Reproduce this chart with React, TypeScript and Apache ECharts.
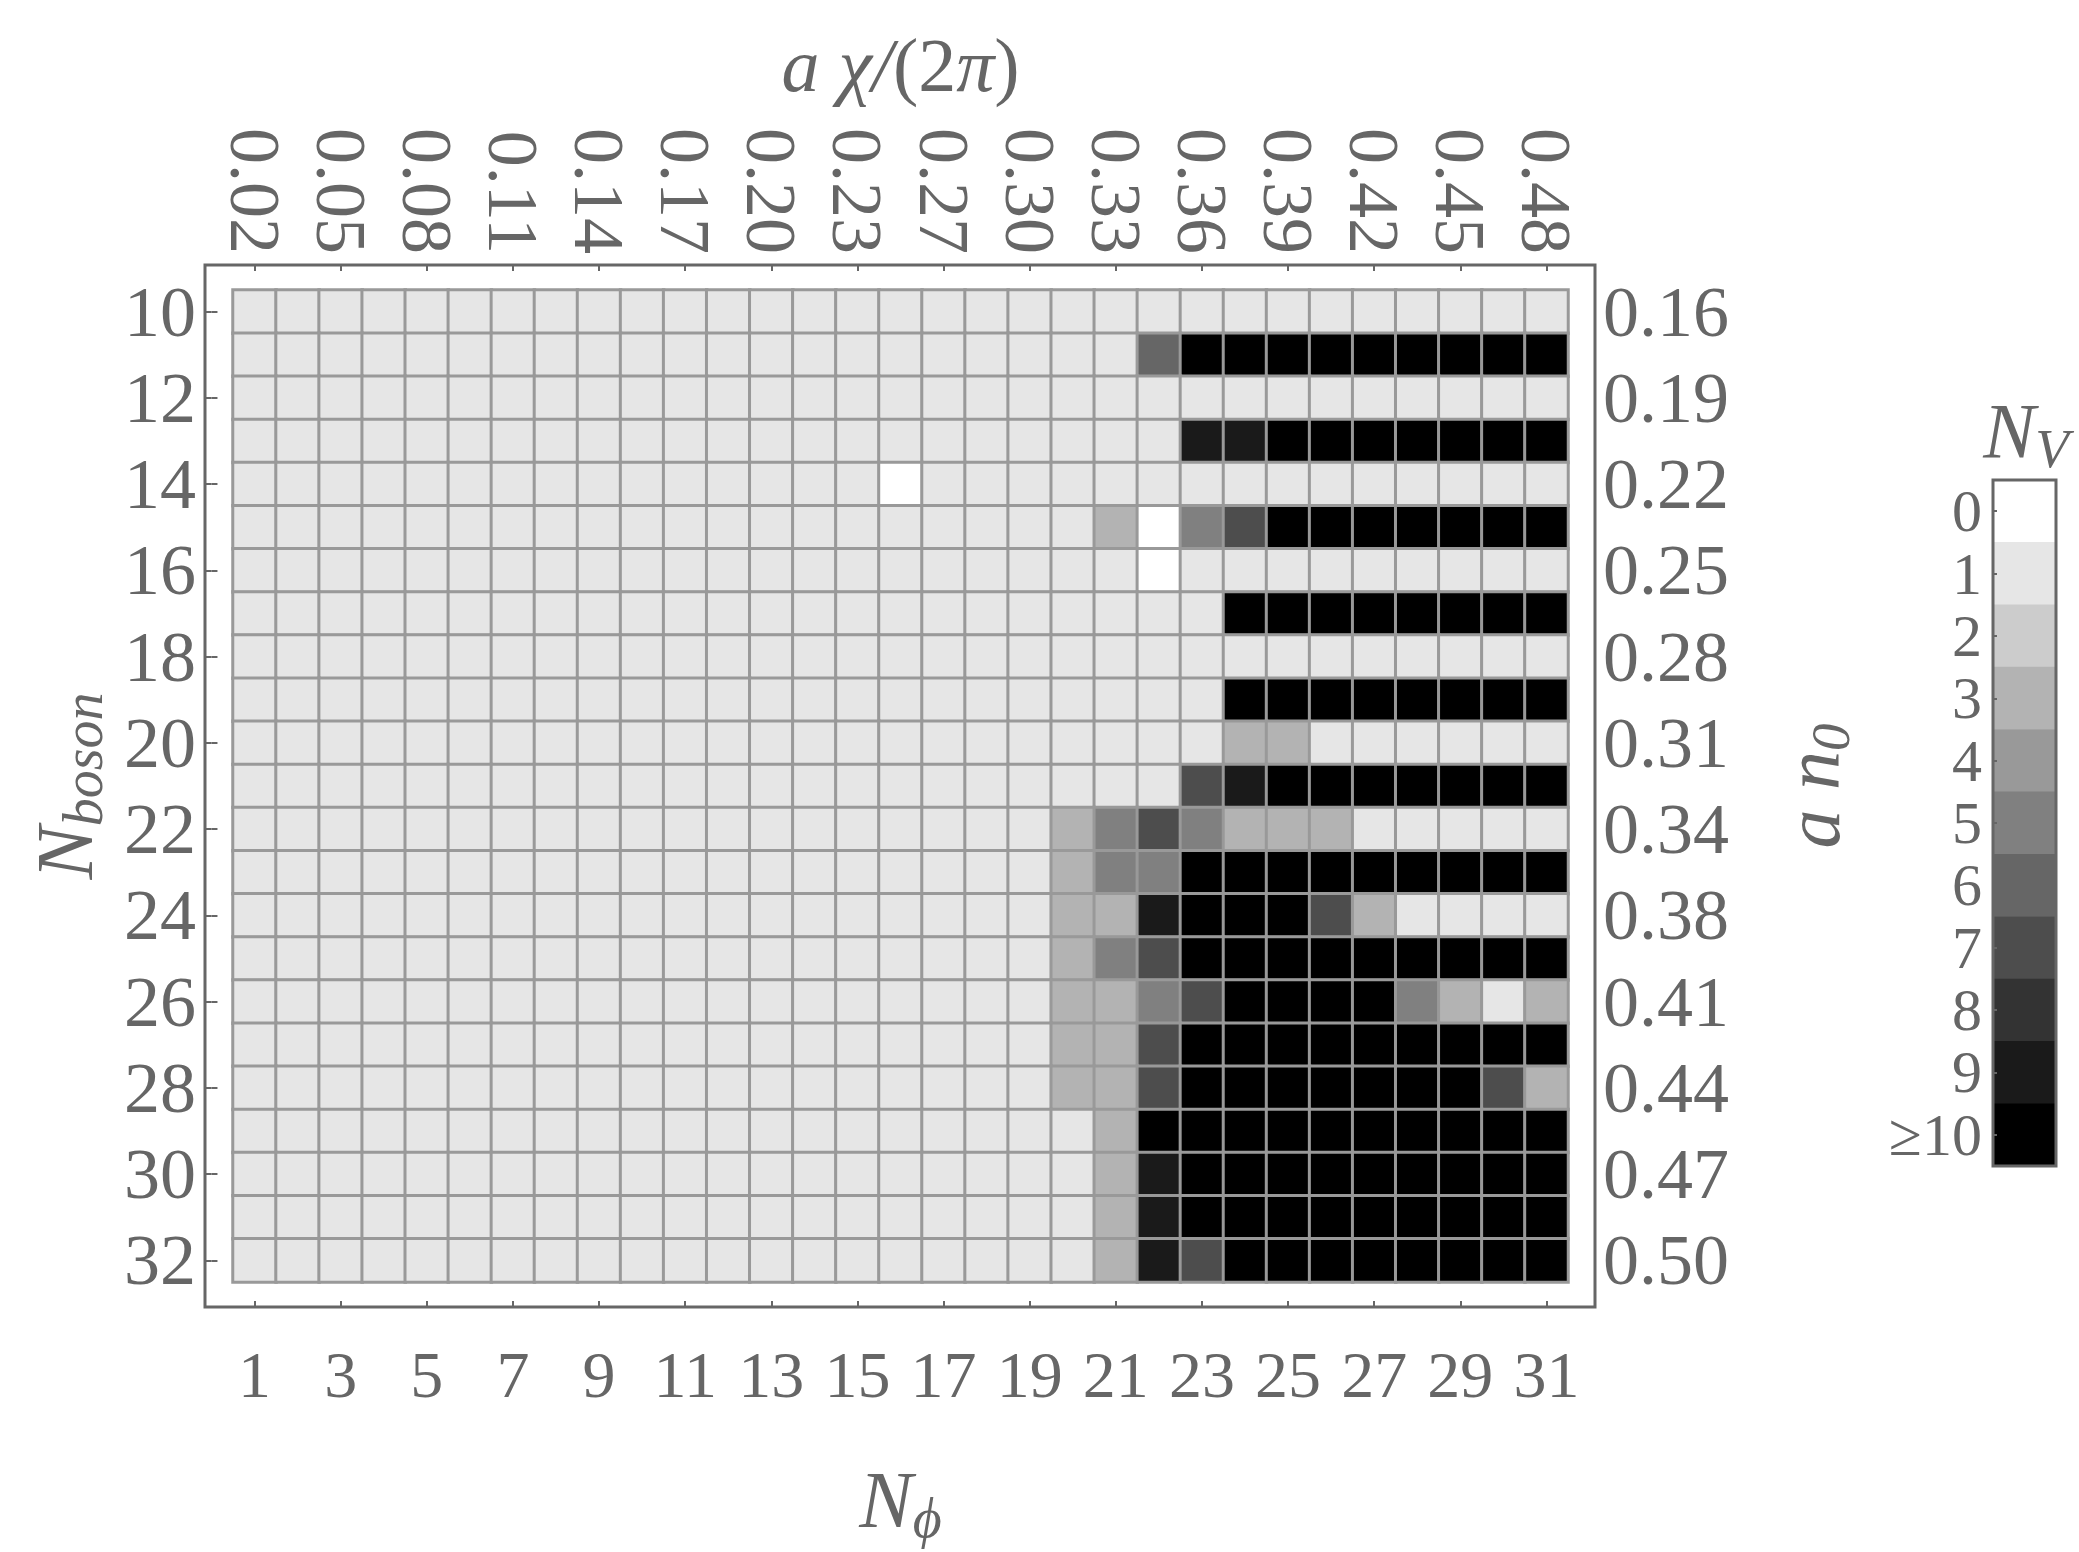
import React, { useEffect, useRef } from "react";
import * as echarts from "echarts";

// ---------- data ----------
const phiValues = [1, 2, 3, 4, 5, 6, 7, 8, 9, 10, 11, 12, 13, 14, 15, 16, 17, 18, 19, 20, 21, 22, 23, 24, 25, 26, 27, 28, 29, 30, 31];
const bosonValues = [10, 11, 12, 13, 14, 15, 16, 17, 18, 19, 20, 21, 22, 23, 24, 25, 26, 27, 28, 29, 30, 31, 32];
const chiLabels = ["0.02", "0.05", "0.08", "0.11", "0.14", "0.17", "0.20", "0.23", "0.27", "0.30", "0.33", "0.36", "0.39", "0.42", "0.45", "0.48"];
const densityLabels = ["0.16", "0.19", "0.22", "0.25", "0.28", "0.31", "0.34", "0.38", "0.41", "0.44", "0.47", "0.50"];
const nvLevels = [0, 1, 2, 3, 4, 5, 6, 7, 8, 9, 10];
const nvLabels = ["0", "1", "2", "3", "4", "5", "6", "7", "8", "9", "≥10"];
const nvColors = ["#ffffff", "#e6e6e6", "#cccccc", "#b3b3b3", "#999999", "#808080", "#666666", "#4d4d4d", "#333333", "#1a1a1a", "#000000"];

// N_V per row (N_boson = 10..32), columns N_phi = 1..31 ; 10 means >=10
const nvRows: number[][] = [
  /*10*/ [1, 1, 1, 1, 1, 1, 1, 1, 1, 1, 1, 1, 1, 1, 1, 1, 1, 1, 1, 1, 1, 1, 1, 1, 1, 1, 1, 1, 1, 1, 1],
  /*11*/ [1, 1, 1, 1, 1, 1, 1, 1, 1, 1, 1, 1, 1, 1, 1, 1, 1, 1, 1, 1, 1, 6, 10, 10, 10, 10, 10, 10, 10, 10, 10],
  /*12*/ [1, 1, 1, 1, 1, 1, 1, 1, 1, 1, 1, 1, 1, 1, 1, 1, 1, 1, 1, 1, 1, 1, 1, 1, 1, 1, 1, 1, 1, 1, 1],
  /*13*/ [1, 1, 1, 1, 1, 1, 1, 1, 1, 1, 1, 1, 1, 1, 1, 1, 1, 1, 1, 1, 1, 1, 9, 9, 10, 10, 10, 10, 10, 10, 10],
  /*14*/ [1, 1, 1, 1, 1, 1, 1, 1, 1, 1, 1, 1, 1, 1, 1, 0, 1, 1, 1, 1, 1, 1, 1, 1, 1, 1, 1, 1, 1, 1, 1],
  /*15*/ [1, 1, 1, 1, 1, 1, 1, 1, 1, 1, 1, 1, 1, 1, 1, 1, 1, 1, 1, 1, 3, 0, 5, 7, 10, 10, 10, 10, 10, 10, 10],
  /*16*/ [1, 1, 1, 1, 1, 1, 1, 1, 1, 1, 1, 1, 1, 1, 1, 1, 1, 1, 1, 1, 1, 0, 1, 1, 1, 1, 1, 1, 1, 1, 1],
  /*17*/ [1, 1, 1, 1, 1, 1, 1, 1, 1, 1, 1, 1, 1, 1, 1, 1, 1, 1, 1, 1, 1, 1, 1, 10, 10, 10, 10, 10, 10, 10, 10],
  /*18*/ [1, 1, 1, 1, 1, 1, 1, 1, 1, 1, 1, 1, 1, 1, 1, 1, 1, 1, 1, 1, 1, 1, 1, 1, 1, 1, 1, 1, 1, 1, 1],
  /*19*/ [1, 1, 1, 1, 1, 1, 1, 1, 1, 1, 1, 1, 1, 1, 1, 1, 1, 1, 1, 1, 1, 1, 1, 10, 10, 10, 10, 10, 10, 10, 10],
  /*20*/ [1, 1, 1, 1, 1, 1, 1, 1, 1, 1, 1, 1, 1, 1, 1, 1, 1, 1, 1, 1, 1, 1, 1, 3, 3, 1, 1, 1, 1, 1, 1],
  /*21*/ [1, 1, 1, 1, 1, 1, 1, 1, 1, 1, 1, 1, 1, 1, 1, 1, 1, 1, 1, 1, 1, 1, 7, 9, 10, 10, 10, 10, 10, 10, 10],
  /*22*/ [1, 1, 1, 1, 1, 1, 1, 1, 1, 1, 1, 1, 1, 1, 1, 1, 1, 1, 1, 3, 5, 7, 5, 3, 3, 3, 1, 1, 1, 1, 1],
  /*23*/ [1, 1, 1, 1, 1, 1, 1, 1, 1, 1, 1, 1, 1, 1, 1, 1, 1, 1, 1, 3, 5, 5, 10, 10, 10, 10, 10, 10, 10, 10, 10],
  /*24*/ [1, 1, 1, 1, 1, 1, 1, 1, 1, 1, 1, 1, 1, 1, 1, 1, 1, 1, 1, 3, 3, 9, 10, 10, 10, 7, 3, 1, 1, 1, 1],
  /*25*/ [1, 1, 1, 1, 1, 1, 1, 1, 1, 1, 1, 1, 1, 1, 1, 1, 1, 1, 1, 3, 5, 7, 10, 10, 10, 10, 10, 10, 10, 10, 10],
  /*26*/ [1, 1, 1, 1, 1, 1, 1, 1, 1, 1, 1, 1, 1, 1, 1, 1, 1, 1, 1, 3, 3, 5, 7, 10, 10, 10, 10, 5, 3, 1, 3],
  /*27*/ [1, 1, 1, 1, 1, 1, 1, 1, 1, 1, 1, 1, 1, 1, 1, 1, 1, 1, 1, 3, 3, 7, 10, 10, 10, 10, 10, 10, 10, 10, 10],
  /*28*/ [1, 1, 1, 1, 1, 1, 1, 1, 1, 1, 1, 1, 1, 1, 1, 1, 1, 1, 1, 3, 3, 7, 10, 10, 10, 10, 10, 10, 10, 7, 3],
  /*29*/ [1, 1, 1, 1, 1, 1, 1, 1, 1, 1, 1, 1, 1, 1, 1, 1, 1, 1, 1, 1, 3, 10, 10, 10, 10, 10, 10, 10, 10, 10, 10],
  /*30*/ [1, 1, 1, 1, 1, 1, 1, 1, 1, 1, 1, 1, 1, 1, 1, 1, 1, 1, 1, 1, 3, 9, 10, 10, 10, 10, 10, 10, 10, 10, 10],
  /*31*/ [1, 1, 1, 1, 1, 1, 1, 1, 1, 1, 1, 1, 1, 1, 1, 1, 1, 1, 1, 1, 3, 9, 10, 10, 10, 10, 10, 10, 10, 10, 10],
  /*32*/ [1, 1, 1, 1, 1, 1, 1, 1, 1, 1, 1, 1, 1, 1, 1, 1, 1, 1, 1, 1, 3, 9, 7, 10, 10, 10, 10, 10, 10, 10, 10],
];

// ---------- layout ----------
const W = 2079;
const H = 1552;
const GL = 233, GT = 290, GW = 1335, GH = 992; // heatmap cells
const FL = 205, FT = 265, FR = 1595, FB = 1307; // frame
const CBL = 1993, CBT = 480, CBW = 63, CBH = 686; // colour bar
const TXT = "#666666";
const FONT = "'Liberation Serif', 'Times New Roman', serif";

const mainRich = (size: number, lh: number) => ({
  i: { fontFamily: FONT, fontStyle: "italic", fontSize: size, color: TXT, fill: TXT, lineHeight: lh, verticalAlign: "middle" },
  r: { fontFamily: FONT, fontSize: size, color: TXT, fill: TXT, lineHeight: lh, verticalAlign: "middle" },
  s: { fontFamily: FONT, fontStyle: "italic", fontSize: Math.round(size * 0.7), color: TXT, fill: TXT, verticalAlign: "bottom" },
});

export default function App() {
  const ref = useRef<HTMLDivElement>(null);

  useEffect(() => {
    if (!ref.current) return;
    const chart = echarts.init(ref.current, undefined, { renderer: "svg" });

    const colW = GW / phiValues.length;
    const rowH = GH / bosonValues.length;
    const xMin = phiValues[0] - 0.5 + (FL - GL) / colW;
    const xMax = phiValues[phiValues.length - 1] + 0.5 + (FR - (GL + GW)) / colW;
    const yMin = bosonValues[0] - 0.5 + (FT - GT) / rowH;
    const yMax = bosonValues[bosonValues.length - 1] + 0.5 + (FB - (GT + GH)) / rowH;
    const xTicks = phiValues.filter((_, i) => i % 2 === 0);
    const yTicks = bosonValues.filter((_, i) => i % 2 === 0);

    const data: number[][] = [];
    nvRows.forEach((row, yi) => row.forEach((v, xi) => data.push([xi, yi, v])));

    const barData = nvLevels.map((v, i) => [0, i, v]);

    const pieces = nvLevels.map((v, i) =>
      i < nvLevels.length - 1
        ? { gte: v - 0.5, lt: v + 0.5, label: nvLabels[i], color: nvColors[i] }
        : { gte: v - 0.5, label: nvLabels[i], color: nvColors[i] }
    );

    const tickLabel = { fontFamily: FONT, color: TXT, fontSize: 72 };
    const frameAxisCommon = {
      gridIndex: 1,
      type: "value" as const,
      axisLine: { show: false },
      axisLabel: { show: false },
      splitLine: { show: false },
    };
    const frameTick = (vals: number[]) => ({
      show: true,
      inside: true,
      length: 6,
      customValues: vals,
      lineStyle: { color: TXT, width: 2 },
    });

    chart.setOption({
      animation: false,
      backgroundColor: "#ffffff",
      grid: [
        { left: GL, top: GT, width: GW, height: GH, containLabel: false },
        { left: FL, top: FT, width: FR - FL, height: FB - FT, show: true, borderColor: TXT, borderWidth: 3, backgroundColor: "transparent" },
        { left: CBL, top: CBT, width: CBW, height: CBH, show: true, borderColor: TXT, borderWidth: 3, backgroundColor: "transparent", z: 5 },
      ],
      xAxis: [
        {
          gridIndex: 0,
          type: "category",
          position: "bottom",
          data: phiValues.map(String),
          axisLine: { show: false },
          axisTick: { show: false },
          splitLine: { show: false },
          axisLabel: { interval: 1, margin: 59, fontFamily: FONT, color: TXT, fontSize: 66 },
          name: "{i|N}{s|ϕ}",
          nameLocation: "middle",
          nameGap: 172,
          nameTextStyle: { rich: mainRich(80, 92) },
        },
        {
          gridIndex: 0,
          type: "category",
          position: "top",
          data: phiValues.map(String),
          axisLine: { show: false },
          axisTick: { show: false },
          splitLine: { show: false },
          axisLabel: {
            ...tickLabel,
            interval: 1,
            rotate: 90,
            margin: 36,
            formatter: (_v: string, i: number) => chiLabels[i / 2] ?? "",
          },
          name: "{i|a χ/}{r|(2}{i|π}{r|)}",
          nameLocation: "middle",
          nameGap: 185,
          nameTextStyle: { rich: mainRich(76, 80) },
        },
        { ...frameAxisCommon, position: "bottom", min: xMin, max: xMax, axisTick: frameTick(xTicks) },
        { ...frameAxisCommon, position: "top", min: xMin, max: xMax, axisTick: frameTick(xTicks) },
        {
          gridIndex: 2,
          type: "category",
          data: ["NV"],
          axisLine: { show: false },
          axisTick: { show: false },
          axisLabel: { show: false },
          splitLine: { show: false },
        },
      ],
      yAxis: [
        {
          gridIndex: 0,
          type: "category",
          position: "left",
          inverse: true,
          data: bosonValues.map(String),
          axisLine: { show: false },
          axisTick: { show: false },
          splitLine: { show: false },
          axisLabel: { ...tickLabel, interval: 1, margin: 37 },
          name: "{i|N}{s|boson}",
          nameLocation: "middle",
          nameGap: 122,
          nameTextStyle: { rich: mainRich(80, 92) },
        },
        {
          gridIndex: 0,
          type: "category",
          position: "right",
          inverse: true,
          data: bosonValues.map(String),
          axisLine: { show: false },
          axisTick: { show: false },
          splitLine: { show: false },
          axisLabel: {
            ...tickLabel,
            interval: 1,
            margin: 35,
            formatter: (_v: string, i: number) => densityLabels[i / 2] ?? "",
          },
          name: "{i|a n}{s|0}",
          nameLocation: "middle",
          nameGap: 198,
          nameTextStyle: { rich: mainRich(78, 92) },
        },
        { ...frameAxisCommon, position: "left", inverse: true, min: yMin, max: yMax, axisTick: frameTick(yTicks) },
        { ...frameAxisCommon, position: "right", inverse: true, min: yMin, max: yMax, axisTick: frameTick(yTicks) },
        {
          gridIndex: 2,
          type: "category",
          position: "left",
          inverse: true,
          z: 6,
          data: nvLabels,
          axisLine: { show: false },
          axisTick: { show: true, inside: true, alignWithLabel: true, length: 4, lineStyle: { color: TXT, width: 2 } },
          splitLine: { show: false },
          axisLabel: { fontFamily: FONT, color: TXT, fontSize: 60, lineHeight: 60, margin: 11, interval: 0 },
        },
      ],
      visualMap: {
        type: "piecewise",
        show: false,
        seriesIndex: [0, 1],
        pieces,
      },
      graphic: [
        {
          type: "text",
          z: 100,
          x: 2026,
          y: 430,
          style: {
            text: "{i|N}{s|V}",
            rich: mainRich(78, 92),
            fill: TXT,
            align: "center",
            verticalAlign: "middle",
          },
        },
      ],
      series: [
        {
          type: "heatmap",
          xAxisIndex: 0,
          yAxisIndex: 0,
          data,
          itemStyle: { borderColor: "#999999", borderWidth: 3 },
          emphasis: { disabled: true },
          label: { show: false },
        },
        {
          type: "heatmap",
          xAxisIndex: 4,
          yAxisIndex: 4,
          data: barData,
          itemStyle: { borderWidth: 0 },
          emphasis: { disabled: true },
          label: { show: false },
        },
      ],
    });

    return () => chart.dispose();
  }, []);

  return (
    <div
      ref={ref}
      style={{ position: "fixed", left: 0, top: 0, width: W, height: H, background: "#fff" }}
    />
  );
}
